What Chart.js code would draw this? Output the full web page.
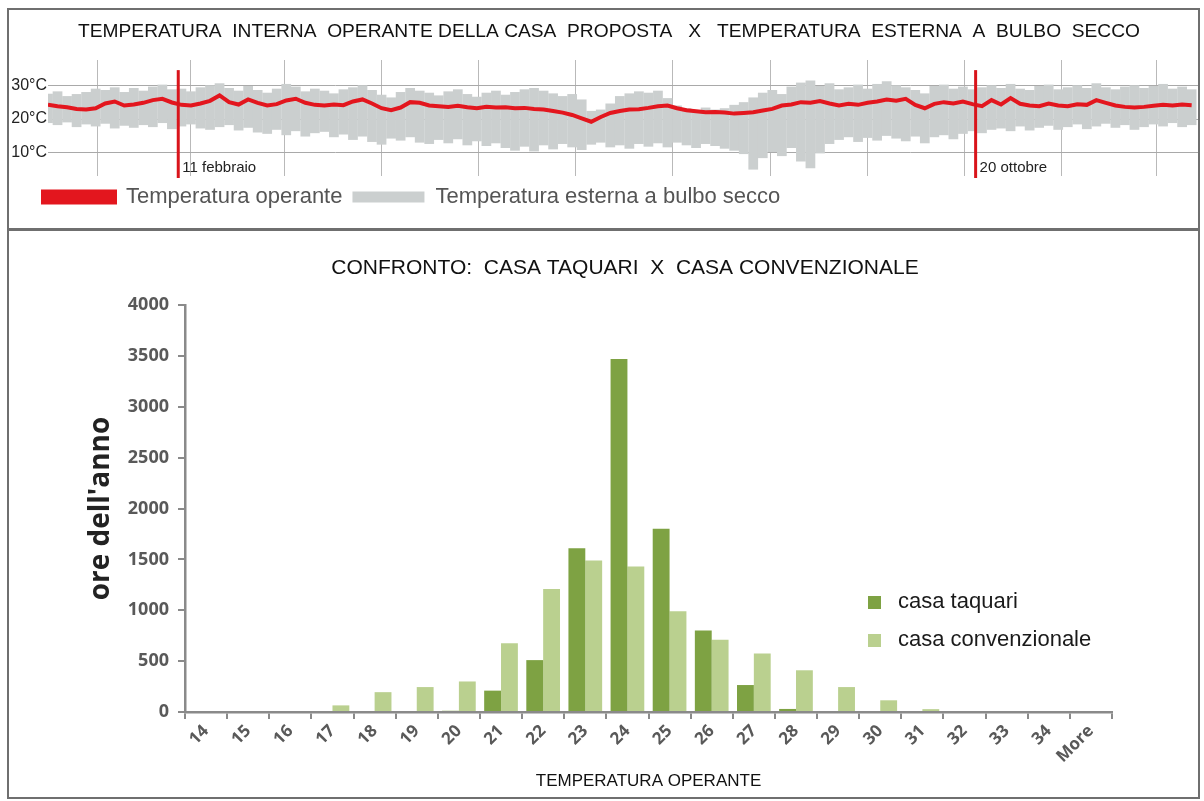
<!DOCTYPE html>
<html lang="it">
<head>
<meta charset="utf-8">
<title>Temperatura operante - confronto</title>
<script src="https://cdn.jsdelivr.net/npm/chart.js@4.4.1/dist/chart.umd.min.js"></script>
<style>
  html, body { margin: 0; padding: 0; background: #fff; }
  body { width: 1204px; height: 801px; position: relative; overflow: hidden; }
  .pannello { position: absolute; left: 0; width: 1204px; }
  #boxSopra { top: 0; height: 230px; }
  #boxSotto { top: 230px; height: 571px; }
  .cornice { position: absolute; border: 2px solid #6f6f6f; box-sizing: border-box; pointer-events: none; }
</style>
</head>
<body>
<div class="pannello" id="boxSopra"><canvas id="graficoAnnuale"></canvas></div>
<div class="pannello" id="boxSotto"><canvas id="graficoConfronto"></canvas></div>
<div class="cornice" style="left:7px;top:8px;width:1193px;height:222px"></div>
<div class="cornice" style="left:7px;top:229px;width:1193px;height:570px"></div>
<script>
// --- grafico annuale: un campione ogni 3 giorni (lettura dal grafico) ---
var passoGiorni = 3;
var meseInizio = [0, 31, 59, 90, 120, 151, 181, 212, 243, 273, 304, 334];
var tickGradi = [10, 20, 30];

var operante = [
    24.2, 23.8, 23.5, 23.0, 22.8, 23.2, 24.6, 25.2, 24.0, 24.3,
    24.8, 25.6, 26.0, 24.9, 24.2, 24.0, 24.6, 25.4, 27.0, 25.0,
    24.3, 25.8, 24.8, 24.0, 24.4, 25.5, 26.0, 24.8, 24.2, 24.0,
    24.3, 24.1, 25.2, 25.8, 24.6, 23.2, 22.6, 23.4, 25.0, 24.8,
    24.0, 23.8, 23.6, 23.9, 23.5, 23.2, 23.6, 23.4, 23.5, 23.2,
    23.3, 23.0, 22.8, 22.4, 21.9, 21.2, 20.2, 19.2, 20.6, 21.8,
    22.4, 22.8, 22.9, 23.3, 23.8, 24.0, 23.2, 22.6, 22.3, 22.0,
    22.1, 21.9, 21.6, 21.8, 22.0, 22.5, 23.0, 24.0, 24.3, 25.0,
    24.8, 25.3, 24.6, 24.0, 24.5, 24.2, 24.8, 25.2, 25.8, 25.4,
    26.0, 24.2, 23.2, 24.5, 25.0, 24.6, 25.2, 24.4, 23.8, 25.6,
    24.3, 26.2, 24.5, 24.0, 23.8, 24.6, 24.0, 23.8, 24.4, 24.2,
    25.6, 24.8, 24.0, 23.6, 23.4, 23.6, 23.9, 24.2, 24.0, 24.3,
    24.1
];
var esternaMax = [
    27.5, 28.2, 26.8, 27.4, 28.0, 29.0, 28.6, 29.4, 28.0, 29.2,
    28.4, 29.6, 30.2, 28.8, 29.0, 28.2, 29.4, 30.0, 30.6, 29.2,
    28.4, 29.8, 28.6, 27.8, 29.0, 30.4, 29.6, 28.2, 29.0, 28.4,
    27.6, 28.8, 29.4, 30.0, 28.6, 27.2, 26.4, 28.0, 29.2, 28.4,
    27.8, 27.0, 28.2, 28.8, 27.4, 26.6, 27.8, 28.4, 27.2, 28.0,
    28.8, 29.2, 28.4, 27.6, 26.8, 27.4, 25.8, 22.4, 22.8, 24.6,
    26.8, 27.6, 28.2, 27.8, 28.4, 26.2, 24.0, 23.2, 22.6, 23.4,
    22.8, 23.2, 24.2, 25.0, 26.4, 27.8, 28.6, 27.4, 29.6, 30.8,
    31.4, 29.8, 30.6, 28.8, 29.4, 30.2, 29.0, 30.4, 31.2, 30.0,
    29.4, 28.6, 27.6, 29.8, 30.2, 29.0, 29.6, 28.8, 29.4, 30.0,
    29.2, 30.4, 29.0, 28.6, 29.8, 30.2, 28.8, 29.4, 30.0, 29.2,
    30.6, 29.4, 28.8, 29.6, 30.0, 29.2, 29.8, 30.4, 29.0, 29.6,
    28.8
];
var esternaMin = [
    18.8, 18.2, 19.0, 17.6, 18.4, 17.8, 18.6, 17.2, 18.0, 17.4,
    18.2, 17.6, 18.8, 17.0, 17.8, 18.4, 17.2, 16.8, 17.6, 18.2,
    16.6, 17.4, 16.0, 15.6, 16.8, 15.2, 16.4, 14.8, 15.8, 16.2,
    14.6, 15.4, 13.8, 14.8, 13.2, 12.4, 14.2, 13.6, 14.6, 13.0,
    12.6, 13.8, 12.8, 14.0, 12.2, 13.4, 12.0, 12.8, 11.4, 10.6,
    11.8, 10.4, 12.2, 11.0, 12.6, 11.6, 10.8, 12.4, 13.0, 11.6,
    12.2, 11.2, 12.6, 11.8, 12.8, 11.6, 13.0, 12.2, 11.4, 12.6,
    12.0, 11.2, 10.6, 9.6, 5.0, 8.4, 10.2, 9.0, 11.4, 7.4,
    5.4, 9.8, 12.6, 13.8, 14.6, 13.2, 14.4, 13.6, 15.0, 14.2,
    13.4, 14.8, 12.8, 14.6, 15.2, 14.0, 15.6, 16.4, 15.8, 16.8,
    17.2, 16.4, 17.8, 16.6, 17.4, 18.0, 16.8, 17.6, 18.4, 17.0,
    17.8, 18.6, 17.4, 18.2, 16.8, 17.6, 18.4, 17.8, 18.8, 17.6,
    18.2
];
var eventiGiorno = [41, 292];
var eventiTesto = ["11 febbraio", "20 ottobre"];

// --- istogramma di confronto ---
var categorie = ["14", "15", "16", "17", "18", "19", "20", "21", "22", "23", "24",
    "25", "26", "27", "28", "29", "30", "31", "32", "33", "34", "More"];
var casaTaquari = [0, 0, 0, 0, 0, 0, 12, 210, 510, 1610, 3470, 1800, 800, 265, 30, 0, 0, 0, 0, 0, 0, 0];
var casaConvenzionale = [0, 0, 0, 65, 195, 245, 300, 675, 1210, 1490, 1430, 990, 710, 575, 410, 245, 115, 28, 0, 0, 0, 0];
var tickOre = 500;

var titoloAnnuale = "TEMPERATURA  INTERNA  OPERANTE DELLA CASA  PROPOSTA   X   TEMPERATURA  ESTERNA  A  BULBO  SECCO";
var titoloConfronto = "CONFRONTO:  CASA TAQUARI  X  CASA CONVENZIONALE";

Chart.defaults.font.family = "'Liberation Sans', Arial, sans-serif";

var puntiOperante = operante.map(function (v, i) { return { x: i * passoGiorni, y: v }; });
var barreEsterna = esternaMin.map(function (v, i) { return { x: i * passoGiorni, y: [v, esternaMax[i]] }; });

// titolo centrato sul riquadro, non sull'area del grafico
function pluginTitolo(id, testo, dimensione, cx, cy) {
    return {
        id: id,
        afterDraw: function (chart) {
            var ctx = chart.ctx;
            ctx.save();
            ctx.font = dimensione + "px 'Liberation Sans', Arial";
            ctx.fillStyle = "#111";
            ctx.textAlign = "center";
            ctx.textBaseline = "middle";
            ctx.fillText(testo, cx, cy);
            ctx.restore();
        }
    };
}

var pluginEventi = {
    id: "eventi",
    afterDatasetsDraw: function (chart) {
        var ctx = chart.ctx, sx = chart.scales.x, sy = chart.scales.y;
        ctx.save();
        eventiGiorno.forEach(function (g, i) {
            var px = sx.getPixelForValue(g);
            ctx.strokeStyle = "#d9141b";
            ctx.lineWidth = 3;
            ctx.beginPath();
            ctx.moveTo(px, sy.getPixelForValue(34.5));
            ctx.lineTo(px, chart.chartArea.bottom + 2);
            ctx.stroke();
            ctx.fillStyle = "#222";
            ctx.font = "15px 'Liberation Sans', Arial";
            ctx.textBaseline = "middle";
            ctx.fillText(eventiTesto[i], px + 4, sy.getPixelForValue(5.6));
        });
        ctx.restore();
    }
};

// la legenda parte sotto l'asse, non dal bordo
var pluginSpostaLegenda = {
    id: "spostaLegenda",
    afterUpdate: function (chart) {
        if (chart.legend) chart.legend.left = 33;
    }
};

var pluginLegendaConfronto = {
    id: "legendaConfronto",
    afterDraw: function (chart) {
        var ctx = chart.ctx, a = chart.chartArea;
        var x0 = a.left + 683, y0 = a.top + 297;
        ctx.save();
        ctx.font = "22px 'Liberation Sans', Arial";
        ctx.textBaseline = "middle";
        chart.data.datasets.forEach(function (ds, i) {
            var y = y0 + i * 38;
            ctx.fillStyle = ds.backgroundColor;
            ctx.fillRect(x0, y - 6, 13, 13);
            ctx.fillStyle = "#1a1a1a";
            ctx.fillText(ds.label, x0 + 30, y);
        });
        ctx.restore();
    }
};

document.addEventListener("DOMContentLoaded", function () {
    var ctxA = document.getElementById("graficoAnnuale");
    new Chart(ctxA, {
        type: "line",
        data: {
            datasets: [{
                type: "line",
                label: "Temperatura operante",
                data: puntiOperante,
                borderColor: "#e3161e",
                backgroundColor: "#e3161e",
                borderWidth: 4,
                pointRadius: 0,
                tension: 0,
                order: 0
            }, {
                type: "bar",
                label: "Temperatura esterna a bulbo secco",
                data: barreEsterna,
                backgroundColor: "#cbcfcf",
                borderWidth: 0,
                barPercentage: 1.02,
                categoryPercentage: 1,
                order: 1
            }]
        },
        options: {
            responsive: true,
            maintainAspectRatio: false,
            animation: false,
            layout: { padding: { left: 0, right: 6, top: 60, bottom: 12 } },
            scales: {
                x: {
                    type: "linear",
                    min: 0,
                    max: 362,
                    offset: false,
                    afterBuildTicks: function (s) {
                        s.ticks = meseInizio.map(function (v) { return { value: v }; });
                    },
                    ticks: { display: false },
                    grid: { color: "#b9b9b9", drawTicks: false },
                    border: { display: false }
                },
                y: {
                    type: "linear",
                    min: 3.1,
                    max: 37.5,
                    afterBuildTicks: function (s) {
                        s.ticks = tickGradi.map(function (v) { return { value: v }; });
                    },
                    afterFit: function (s) { s.width = 48; },
                    ticks: {
                        padding: 1,
                        color: "#222",
                        font: { size: 16 },
                        callback: function (v) { return v + "°C"; }
                    },
                    grid: { color: "#a9a9a9", drawTicks: false },
                    border: { display: false }
                }
            },
            plugins: {
                legend: {
                    position: "bottom",
                    align: "start",
                    labels: { boxWidth: 72, boxHeight: 11, padding: 10, color: "#555", font: { size: 22 } }
                },
                tooltip: { enabled: false }
            }
        },
        plugins: [pluginEventi, pluginSpostaLegenda, pluginTitolo("titoloAnnuale", titoloAnnuale, 19.2, 609, 32)]
    });

    var ctxB = document.getElementById("graficoConfronto");
    new Chart(ctxB, {
        type: "bar",
        data: {
            labels: categorie,
            datasets: [{
                label: "casa taquari",
                data: casaTaquari,
                backgroundColor: "#7ea243"
            }, {
                label: "casa convenzionale",
                data: casaConvenzionale,
                backgroundColor: "#bad08f"
            }]
        },
        options: {
            responsive: true,
            maintainAspectRatio: false,
            animation: false,
            datasets: { bar: { barPercentage: 1, categoryPercentage: 0.8 } },
            layout: { padding: { left: 70, right: 92, top: 75, bottom: 0 } },
            scales: {
                x: {
                    afterFit: function (s) { s.height = 89; },
                    grid: { drawOnChartArea: false, tickLength: 7, color: "#8a8a8a", lineWidth: 2 },
                    border: { color: "#8a8a8a", width: 2.5 },
                    ticks: {
                        minRotation: 45,
                        maxRotation: 45,
                        autoSkip: false,
                        padding: 2,
                        color: "#595959",
                        font: { size: 17, weight: "bold", family: "'Open Sans', sans-serif" }
                    },
                    title: {
                        display: true,
                        text: "TEMPERATURA OPERANTE",
                        color: "#111",
                        font: { size: 17 },
                        padding: { top: 4, bottom: 9 }
                    }
                },
                y: {
                    min: 0,
                    max: 4000,
                    afterFit: function (s) { s.width = 115; },
                    ticks: {
                        stepSize: tickOre,
                        padding: 9,
                        color: "#595959",
                        font: { size: 18, weight: "bold", family: "'Open Sans', sans-serif" },
                        callback: function (v) { return String(v); }
                    },
                    grid: { drawOnChartArea: false, tickLength: 7, color: "#8a8a8a", lineWidth: 2 },
                    border: { color: "#8a8a8a", width: 2.5 },
                    title: {
                        display: true,
                        text: "ore dell'anno",
                        color: "#222",
                        font: { size: 28, weight: "bold", family: "'Open Sans', sans-serif" },
                        padding: { top: 14, bottom: 0 }
                    }
                }
            },
            plugins: {
                legend: { display: false },
                tooltip: { enabled: false }
            }
        },
        plugins: [pluginTitolo("titoloConfronto", titoloConfronto, 21, 625, 38), pluginLegendaConfronto]
    });
});
</script>
</body>
</html>
